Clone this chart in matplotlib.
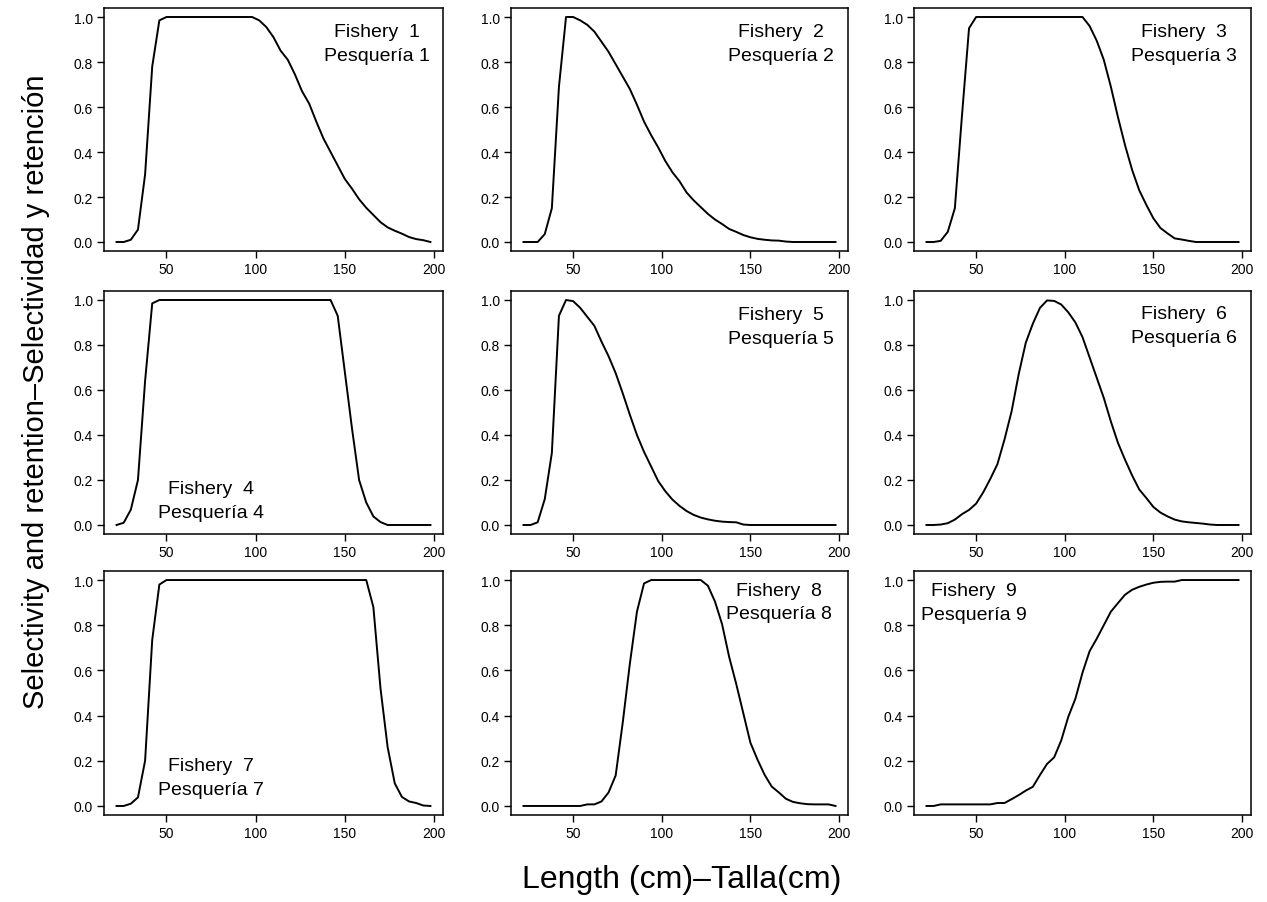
import matplotlib
matplotlib.use("Agg")
import matplotlib.pyplot as plt

plt.rcParams['font.family'] = ['Liberation Sans', 'DejaVu Sans']

# Length grid (cm)
lengths = [22, 26, 30, 34, 38, 42, 46, 50, 54, 58, 62, 66, 70, 74, 78, 82, 86, 90,
           94, 98, 102, 106, 110, 114, 118, 122, 126, 130, 134, 138, 142, 146, 150,
           154, 158, 162, 166, 170, 174, 178, 182, 186, 190, 194, 198]

sel_f1 = [0, 0, 0.01, 0.055, 0.3, 0.78, 0.985, 1, 1, 1, 1, 1, 1, 1, 1, 1, 1, 1,
          1, 1, 0.985, 0.955, 0.91, 0.85, 0.81, 0.745, 0.67, 0.615, 0.535, 0.46, 0.4, 0.34, 0.28,
          0.237, 0.19, 0.152, 0.12, 0.088, 0.065, 0.05, 0.037, 0.022, 0.013, 0.008, 0.0]
sel_f2 = [0, 0, 0, 0.035, 0.15, 0.69, 1.0, 1.0, 0.985, 0.965, 0.935, 0.89, 0.845, 0.79, 0.735, 0.68, 0.61, 0.535,
          0.475, 0.42, 0.36, 0.31, 0.27, 0.22, 0.185, 0.155, 0.125, 0.1, 0.08, 0.058, 0.045, 0.031, 0.021,
          0.014, 0.01, 0.007, 0.006, 0.002, 0, 0, 0, 0, 0, 0, 0]
sel_f3 = [0, 0, 0.005, 0.045, 0.15, 0.56, 0.95, 1, 1, 1, 1, 1, 1, 1, 1, 1, 1, 1,
          1, 1, 1, 1, 1, 0.96, 0.895, 0.81, 0.69, 0.555, 0.43, 0.32, 0.23, 0.165, 0.105,
          0.062, 0.038, 0.016, 0.011, 0.005, 0, 0, 0, 0, 0, 0, 0]
sel_f4 = [0, 0.01, 0.068, 0.2, 0.64, 0.985, 1, 1, 1, 1, 1, 1, 1, 1, 1, 1, 1, 1,
          1, 1, 1, 1, 1, 1, 1, 1, 1, 1, 1, 1, 1, 0.93, 0.68,
          0.43, 0.2, 0.1, 0.038, 0.013, 0, 0, 0, 0, 0, 0, 0]
sel_f5 = [0, 0, 0.012, 0.115, 0.32, 0.93, 1.0, 0.995, 0.965, 0.925, 0.885, 0.815, 0.75, 0.675, 0.585, 0.49, 0.4, 0.325,
          0.26, 0.195, 0.15, 0.113, 0.085, 0.062, 0.045, 0.033, 0.025, 0.019, 0.015, 0.013, 0.012, 0.002, 0,
          0, 0, 0, 0, 0, 0, 0, 0, 0, 0, 0, 0]
sel_f6 = [0, 0, 0.002, 0.008, 0.024, 0.048, 0.067, 0.095, 0.145, 0.205, 0.27, 0.38, 0.505, 0.67, 0.81, 0.895, 0.965, 0.998,
          0.996, 0.98, 0.945, 0.9, 0.835, 0.745, 0.655, 0.565, 0.46, 0.365, 0.29, 0.22, 0.158, 0.12, 0.08,
          0.055, 0.038, 0.024, 0.016, 0.012, 0.009, 0.006, 0.002, 0, 0, 0, 0]
sel_f7 = [0, 0, 0.01, 0.038, 0.2, 0.735, 0.98, 1, 1, 1, 1, 1, 1, 1, 1, 1, 1, 1,
          1, 1, 1, 1, 1, 1, 1, 1, 1, 1, 1, 1, 1, 1, 1,
          1, 1, 1, 0.88, 0.52, 0.26, 0.1, 0.04, 0.02, 0.013, 0.002, 0]
sel_f8 = [0, 0, 0, 0, 0, 0, 0, 0, 0, 0.007, 0.007, 0.02, 0.06, 0.135, 0.37, 0.63, 0.86, 0.985,
          1, 1, 1, 1, 1, 1, 1, 1, 0.975, 0.905, 0.805, 0.66, 0.54, 0.41, 0.28,
          0.205, 0.138, 0.086, 0.06, 0.032, 0.018, 0.012, 0.008, 0.007, 0.007, 0.007, 0]
sel_f9 = [0, 0, 0.007, 0.007, 0.007, 0.007, 0.007, 0.007, 0.007, 0.007, 0.013, 0.013, 0.03, 0.048, 0.068, 0.085, 0.137, 0.186,
          0.215, 0.29, 0.395, 0.475, 0.59, 0.685, 0.74, 0.8, 0.86, 0.898, 0.935, 0.957, 0.97, 0.98, 0.988,
          0.992, 0.993, 0.993, 1, 1, 1, 1, 1, 1, 1, 1, 1]

series = [sel_f1, sel_f2, sel_f3, sel_f4, sel_f5, sel_f6, sel_f7, sel_f8, sel_f9]
labels_en = ["Fishery  %d" % i for i in range(1, 10)]
labels_es = ["Pesquería %d" % i for i in range(1, 10)]
# label anchor (x, y of first line) in data units
label_pos = [(168, 0.935), (167, 0.935), (167, 0.935),
             (75, 0.16), (167, 0.935), (167, 0.94),
             (75, 0.178), (166, 0.955), (49, 0.952)]

x_ticks = [50, 100, 150, 200]
y_ticks = [0.0, 0.2, 0.4, 0.6, 0.8, 1.0]

W, H = 1267, 903
fig = plt.figure(figsize=(W / 100, H / 100), dpi=100)

col_l = [104, 511, 914]
col_r = [443, 848, 1251]
row_t = [9, 292, 572]
row_b = [252, 535, 816]

xmin, xmax = min(lengths), max(lengths)
xr = xmax - xmin
for i in range(9):
    r, c = divmod(i, 3)
    ax = fig.add_axes([col_l[c] / W, 1 - row_b[r] / H,
                       (col_r[c] - col_l[c]) / W, (row_b[r] - row_t[r]) / H])
    ax.plot(lengths, series[i], color='black', lw=1.4)
    ax.set_xlim(xmin - 0.04 * xr, xmax + 0.04 * xr)
    ax.set_ylim(-0.04, 1.04)
    ax.set_xticks(x_ticks)
    ax.set_yticks(y_ticks)
    ax.set_yticklabels(["%.1f" % v for v in y_ticks])
    ax.tick_params(direction='out', length=5, width=1.0, labelsize=10, pad=3, colors='black')
    for s in ax.spines.values():
        s.set_linewidth(1.1)
    lx, ly = label_pos[i]
    ax.text(lx, ly, labels_en[i], ha='center', va='center', fontsize=14)
    ax.text(lx, ly - 0.105, labels_es[i], ha='center', va='center', fontsize=14)

fig.text(36 / W, 1 - 392 / H, "Selectivity and retention\u2013Selectividad y retención",
         rotation=90, ha='center', va='center', fontsize=21)
fig.text(682 / W, 1 - 880 / H, "Length (cm)\u2013Talla(cm)",
         ha='center', va='center', fontsize=23)

fig.savefig("out.png", dpi=100)
